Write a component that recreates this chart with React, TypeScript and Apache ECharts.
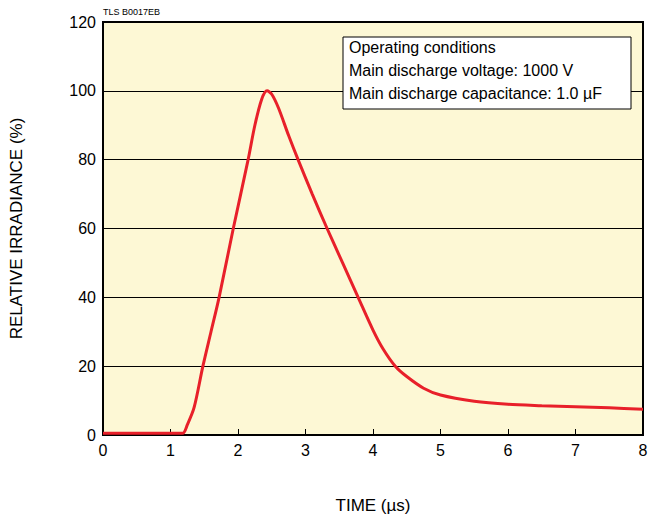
import React, { useEffect, useRef } from "react";
import * as echarts from "echarts";

const timeUs = [0, 1.0, 1.18, 1.25, 1.35, 1.48, 1.6, 1.72, 1.93, 2.15, 2.25, 2.35, 2.43, 2.5, 2.6, 2.75, 2.89, 3.1, 3.32, 3.55, 3.78, 4.0, 4.15, 4.33, 4.5, 4.75, 5.0, 5.5, 6.0, 6.5, 7.0, 7.5, 8.0];
const irradiance = [0.5, 0.5, 0.5, 3, 8, 20, 30, 40, 60, 80, 90, 97.5, 100, 99, 95, 87, 80, 70, 60, 50, 40, 30.5, 25, 20, 17, 13.6, 11.6, 9.8, 8.9, 8.5, 8.2, 7.9, 7.5];
const conditionLines = [
  "Operating conditions",
  "Main discharge voltage: 1000 V",
  "Main discharge capacitance: 1.0 µF",
];

const FONT = "'Liberation Sans', Arial, Helvetica, sans-serif";

export default function App() {
  const ref = useRef<HTMLDivElement>(null);
  useEffect(() => {
    if (!ref.current) return;
    const chart = echarts.init(ref.current, undefined, { renderer: "svg" });
    const data = timeUs.map((t, i) => [t, irradiance[i]]);
    chart.setOption({
      animation: false,
      backgroundColor: "#ffffff",
      textStyle: { fontFamily: FONT },
      grid: {
        left: 103,
        right: 21,
        top: 22,
        bottom: 82,
        show: true,
        backgroundColor: "#fdf8d5",
        borderColor: "#000",
        borderWidth: 2,
      },
      xAxis: {
        type: "value",
        min: 0,
        max: 8,
        interval: 1,
        name: "TIME (µs)",
        nameLocation: "middle",
        nameGap: 62,
        nameTextStyle: { fontSize: 17, color: "#000", fontFamily: FONT },
        axisLine: { show: true, lineStyle: { color: "#000", width: 2 } },
        axisTick: { show: true, inside: true, length: 6, lineStyle: { color: "#000" } },
        axisLabel: { fontSize: 16, color: "#000", margin: 7, fontFamily: FONT },
        splitLine: { show: false },
      },
      yAxis: {
        type: "value",
        min: 0,
        max: 120,
        interval: 20,
        name: "RELATIVE IRRADIANCE (%)",
        nameLocation: "middle",
        nameGap: 78,
        nameTextStyle: { fontSize: 17, color: "#000", fontFamily: FONT },
        axisLine: { show: true, lineStyle: { color: "#000", width: 2 } },
        axisTick: { show: false },
        axisLabel: { fontSize: 16, color: "#000", margin: 7, fontFamily: FONT },
        splitLine: { show: true, lineStyle: { color: "#000", width: 1 } },
      },
      series: [
        {
          type: "line",
          data,
          smooth: 0.3,
          showSymbol: false,
          lineStyle: { color: "#e8202a", width: 3 },
          z: 3,
        },
      ],
      graphic: [
        {
          type: "text",
          left: 103,
          top: 7,
          z: 100,
          style: { text: "TLS B0017EB", fontSize: 9, fill: "#000", fontFamily: FONT },
        },
        {
          type: "rect",
          z: 100,
          shape: { x: 343, y: 37, width: 288, height: 72 },
          style: { fill: "#ffffff", stroke: "#000", lineWidth: 1 },
        },
        ...conditionLines.map((t, i) => ({
          type: "text",
          z: 101,
          x: 349,
          y: 39 + i * 23,
          style: { text: t, fontSize: 16, fill: "#000", fontFamily: FONT },
        })),
      ],
    });
    return () => chart.dispose();
  }, []);
  return <div ref={ref} style={{ width: 664, height: 519, position: "absolute", left: 0, top: 0 }} />;
}
